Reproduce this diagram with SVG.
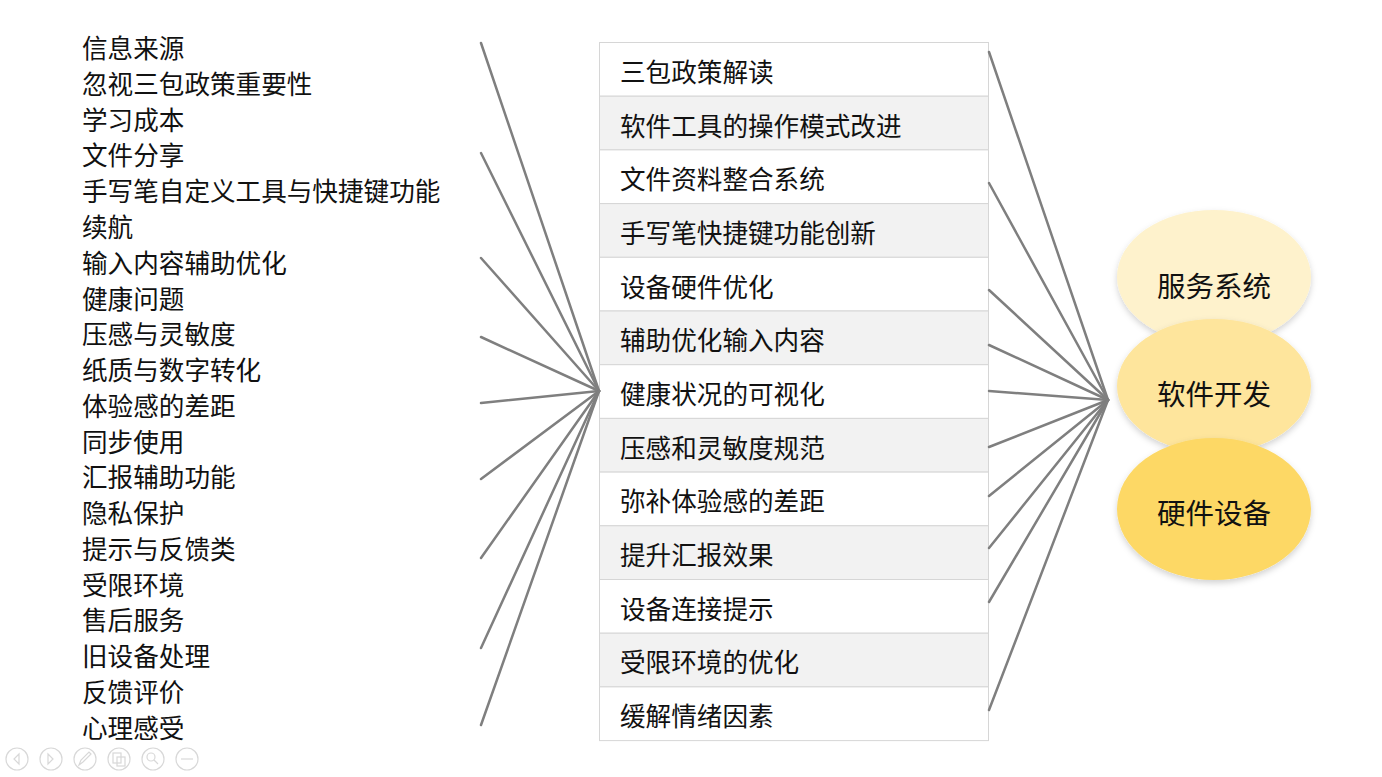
<svg xmlns="http://www.w3.org/2000/svg" width="1382" height="777" viewBox="0 0 1382 777">
<style>
.t{font-family:"Noto Sans CJK SC","Liberation Sans",sans-serif;font-size:25.6px;fill:#111;dominant-baseline:central}
.c{font-family:"Noto Sans CJK SC","Liberation Sans",sans-serif;font-size:28.5px;fill:#111;text-anchor:middle;dominant-baseline:central}
.rw{fill:#ffffff;stroke:#d6d6d6;stroke-width:1}
.rg{fill:#f2f2f2;stroke:#d6d6d6;stroke-width:1}
.ln{stroke:#7f7f7f;stroke-width:2.5;fill:none;stroke-linecap:round}
.ic{fill:none;stroke:#d8d8d8;stroke-width:1.2}
</style>
<defs>
<filter id="sh" x="-20%" y="-20%" width="140%" height="150%">
<feDropShadow dx="0" dy="3" stdDeviation="3" flood-color="#000" flood-opacity="0.18"/>
</filter>
</defs>
<rect width="1382" height="777" fill="#ffffff"/>
<g id="left-labels">
<text class="t" x="82" y="46">信息来源</text>
<text class="t" x="82" y="82">忽视三包政策重要性</text>
<text class="t" x="82" y="118">学习成本</text>
<text class="t" x="82" y="153">文件分享</text>
<text class="t" x="82" y="189">手写笔自定义工具与快捷键功能</text>
<text class="t" x="82" y="225">续航</text>
<text class="t" x="82" y="261">输入内容辅助优化</text>
<text class="t" x="82" y="297">健康问题</text>
<text class="t" x="82" y="332">压感与灵敏度</text>
<text class="t" x="82" y="368">纸质与数字转化</text>
<text class="t" x="82" y="404">体验感的差距</text>
<text class="t" x="82" y="440">同步使用</text>
<text class="t" x="82" y="475">汇报辅助功能</text>
<text class="t" x="82" y="511">隐私保护</text>
<text class="t" x="82" y="547">提示与反馈类</text>
<text class="t" x="82" y="583">受限环境</text>
<text class="t" x="82" y="618">售后服务</text>
<text class="t" x="82" y="654">旧设备处理</text>
<text class="t" x="82" y="690">反馈评价</text>
<text class="t" x="82" y="726">心理感受</text>
</g>
<g id="table">
<rect class="rw" x="599.5" y="42.5" width="389" height="53.7"/>
<rect class="rg" x="599.5" y="96.2" width="389" height="53.7"/>
<rect class="rw" x="599.5" y="149.9" width="389" height="53.7"/>
<rect class="rg" x="599.5" y="203.6" width="389" height="53.7"/>
<rect class="rw" x="599.5" y="257.3" width="389" height="53.7"/>
<rect class="rg" x="599.5" y="311.0" width="389" height="53.7"/>
<rect class="rw" x="599.5" y="364.7" width="389" height="53.7"/>
<rect class="rg" x="599.5" y="418.4" width="389" height="53.7"/>
<rect class="rw" x="599.5" y="472.1" width="389" height="53.7"/>
<rect class="rg" x="599.5" y="525.8" width="389" height="53.7"/>
<rect class="rw" x="599.5" y="579.5" width="389" height="53.7"/>
<rect class="rg" x="599.5" y="633.2" width="389" height="53.7"/>
<rect class="rw" x="599.5" y="686.9" width="389" height="53.7"/>
<text class="t" x="620" y="70">三包政策解读</text>
<text class="t" x="620" y="124">软件工具的操作模式改进</text>
<text class="t" x="620" y="177">文件资料整合系统</text>
<text class="t" x="620" y="231">手写笔快捷键功能创新</text>
<text class="t" x="620" y="285">设备硬件优化</text>
<text class="t" x="620" y="338">辅助优化输入内容</text>
<text class="t" x="620" y="392">健康状况的可视化</text>
<text class="t" x="620" y="446">压感和灵敏度规范</text>
<text class="t" x="620" y="499">弥补体验感的差距</text>
<text class="t" x="620" y="553">提升汇报效果</text>
<text class="t" x="620" y="607">设备连接提示</text>
<text class="t" x="620" y="660">受限环境的优化</text>
<text class="t" x="620" y="714">缓解情绪因素</text>
</g>
<g id="connectors">
<line class="ln" x1="481" y1="43" x2="599" y2="391"/>
<line class="ln" x1="481" y1="153" x2="599" y2="391"/>
<line class="ln" x1="481" y1="258" x2="599" y2="391"/>
<line class="ln" x1="481" y1="337" x2="599" y2="391"/>
<line class="ln" x1="481" y1="403" x2="599" y2="391"/>
<line class="ln" x1="481" y1="479" x2="599" y2="391"/>
<line class="ln" x1="481" y1="558" x2="599" y2="391"/>
<line class="ln" x1="481" y1="648" x2="599" y2="391"/>
<line class="ln" x1="481" y1="725" x2="599" y2="391"/>
<line class="ln" x1="989" y1="52" x2="1108" y2="400"/>
<line class="ln" x1="989" y1="183" x2="1108" y2="400"/>
<line class="ln" x1="989" y1="290" x2="1108" y2="400"/>
<line class="ln" x1="989" y1="345" x2="1108" y2="400"/>
<line class="ln" x1="989" y1="391" x2="1108" y2="400"/>
<line class="ln" x1="989" y1="447" x2="1108" y2="400"/>
<line class="ln" x1="989" y1="496" x2="1108" y2="400"/>
<line class="ln" x1="989" y1="548" x2="1108" y2="400"/>
<line class="ln" x1="989" y1="602" x2="1108" y2="400"/>
<line class="ln" x1="989" y1="710" x2="1108" y2="400"/>
</g>
<g id="node-service">
<ellipse cx="1214" cy="277" rx="97" ry="67" fill="#fef2cc" filter="url(#sh)"/>
<text class="c" x="1214" y="284">服务系统</text>
</g>
<g id="node-software">
<ellipse cx="1214" cy="386" rx="97" ry="67" fill="#fee59c" filter="url(#sh)"/>
<text class="c" x="1214" y="392">软件开发</text>
</g>
<g id="node-hardware">
<ellipse cx="1214" cy="509" rx="97" ry="71" fill="#fdd865" filter="url(#sh)"/>
<text class="c" x="1214" y="511">硬件设备</text>
</g>
<g id="toolbar">
<circle class="ic" cx="17" cy="759" r="11"/>
<path class="ic" d="M19,754 L14,759 L19,764 Z"/>
<circle class="ic" cx="51" cy="759" r="11"/>
<path class="ic" d="M48,754 L53,759 L48,764 Z"/>
<circle class="ic" cx="85" cy="759" r="11"/>
<path class="ic" d="M79,765 L81,760 L89,752 L91,754 L83,762 Z"/>
<circle class="ic" cx="119" cy="759" r="11"/>
<rect class="ic" x="113" y="753" width="8" height="10"/>
<rect class="ic" x="117" y="757" width="8" height="9"/>
<circle class="ic" cx="153" cy="759" r="11"/>
<circle class="ic" cx="151" cy="757" r="4"/>
<line class="ic" x1="154" y1="760" x2="158" y2="764"/>
<circle class="ic" cx="187" cy="759" r="11"/>
<line class="ic" x1="181" y1="759" x2="193" y2="759"/>
</g>
</svg>
